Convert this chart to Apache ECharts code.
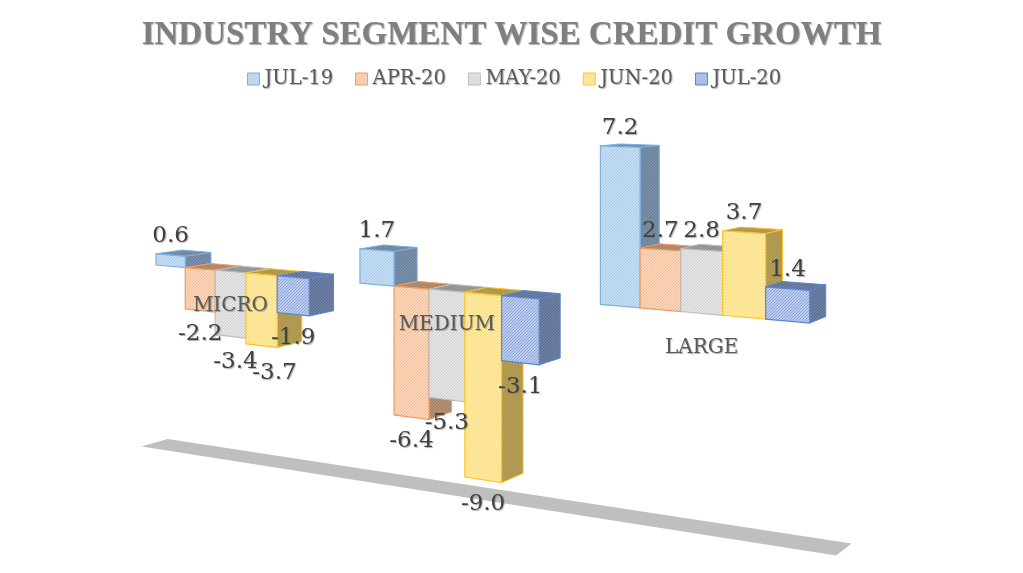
<!DOCTYPE html>
<html>
<head>
<meta charset="utf-8">
<style>html,body{margin:0;padding:0;background:#fff}#c{width:1023px;height:573px}</style>
<script src="https://cdn.jsdelivr.net/npm/echarts@6/dist/echarts.min.js"></script>
</head>
<body>
<div id="c"></div>
<script>
var titleText = 'INDUSTRY SEGMENT WISE CREDIT GROWTH';
var categories = ['MICRO', 'MEDIUM', 'LARGE'];
var months = ['JUL-19', 'APR-20', 'MAY-20', 'JUN-20', 'JUL-20'];
var jul19 = [0.6, 1.7, 7.2];
var apr20 = [-2.2, -6.4, 2.7];
var may20 = [-3.4, -5.3, 2.8];
var jun20 = [-3.7, -9.0, 3.7];
var jul20 = [-1.9, -3.1, 1.4];
var seriesValues = [jul19, apr20, may20, jun20, jul20];

// styling tables
var frontBg = ['#d6e7f7', '#fde4d2', '#f0f0f0', '#fff0c0', '#d3def3'];
var frontFg = ['#a3c8ea', '#f6b88e', '#cdcdcd', '#ffdb6e', '#86a1da'];
var sideBg = ['#8497ae', '#bb9a80', '#a2a2a2', '#bba55e', '#7a8aa8'];
var sideFg = ['#647d98', '#a27b5c', '#8b8b8b', '#a68f45', '#566a96'];
var edge = ['#7fb0e0', '#f09a5f', '#bdbdbd', '#ffc62a', '#5a84cf'];

function hatch(bg, fg) {
  var n = 3, cv = document.createElement('canvas');
  cv.width = n; cv.height = n;
  var g = cv.getContext('2d');
  g.fillStyle = bg; g.fillRect(0, 0, n, n);
  g.strokeStyle = fg; g.lineWidth = 1.1;
  [[-n, n, n, -n], [0, n, n, 0], [0, 2 * n, 2 * n, 0]].forEach(function (l) {
    g.beginPath(); g.moveTo(l[0], l[1]); g.lineTo(l[2], l[3]); g.stroke();
  });
  return { image: cv, repeat: 'repeat' };
}
var frontFill = frontBg.map(function (b, i) { return hatch(b, frontFg[i]); });
var sideFill = sideBg.map(function (b, i) { return hatch(b, sideFg[i]); });

// 3-D view: the flat cartesian grid is warped by one projective map
var groupStart = [0, 6.53, 13.1];
var barStep = [1, 1, 0.985];
var K = { c: -0.0112, g: 0.0205, p: 29.7, q: -0.4, s: 1.4, f: -0.0014 };
function project(api, u, v, w) {
  var flat = api.coord([u, v]);
  var D = 1 + K.c * u + K.g * w;
  return [(flat[0] + K.p * w) / D, (flat[1] + K.q * u + K.s * w) / (D + K.f * v)];
}
var AXIS_MIN = -10, AXIS_MAX = 8;

function renderBar(params, api) {
  var si = params.seriesIndex - 1, cat = api.value(0);
  var step = barStep[cat];
  var u = groupStart[cat] + si * step, v = api.value(1);
  function P(du, val, w) { return project(api, u + du * step, val, w); }
  var hi = Math.max(v, 0), lo = Math.min(v, 0);
  var sideStyle = { fill: sideFill[si], stroke: edge[si], lineWidth: 1 };
  var frontStyle = { fill: frontFill[si], stroke: edge[si], lineWidth: 1.2 };
  return {
    type: 'group',
    children: [
      { type: 'polygon', shape: { points: [P(0, hi, 0), P(1, hi, 0), P(1, hi, 1), P(0, hi, 1)] }, style: sideStyle },
      { type: 'polygon', shape: { points: [P(1, hi, 0), P(1, hi, 1), P(1, lo, 1), P(1, lo, 0)] }, style: sideStyle },
      { type: 'polygon', shape: { points: [P(0, hi, 0), P(1, hi, 0), P(1, lo, 0), P(0, lo, 0)] }, style: frontStyle }
    ]
  };
}
function renderFloor(params, api) {
  var a = -0.5, b = 18.6;
  return {
    type: 'polygon',
    shape: { points: [project(api, a, AXIS_MIN, 0), project(api, a, AXIS_MIN, 1), project(api, b, AXIS_MIN, 1), project(api, b, AXIS_MIN, 0)] },
    style: { fill: '#bfbfbf' }
  };
}
var shadow = { textShadowColor: 'rgba(120,120,120,0.6)', textShadowBlur: 1, textShadowOffsetX: 1, textShadowOffsetY: 1 };
function labelNudge(cat, si) {
  if (cat === 0 && si === 3) return [13, 3];
  if (cat === 0 && si === 2) return [5, 2];
  return [0, 0];
}
function renderValueLabel(params, api) {
  var cat = api.value(0), si = api.value(1), v = api.value(2);
  var u = groupStart[cat] + si * barStep[cat];
  var pos = project(api, u + 0.5 * barStep[cat], v, 0);
  var n = labelNudge(cat, si);
  return {
    type: 'text', z2: 100,
    style: Object.assign({
      x: pos[0] + n[0], y: pos[1] + (v >= 0 ? -19 : 24) + n[1], text: v.toFixed(1),
      fill: '#404040', font: '23px "DejaVu Serif"', align: 'center', verticalAlign: 'middle'
    }, shadow)
  };
}
function renderCategoryLabel(params, api) {
  var cat = api.value(0);
  var pos = project(api, groupStart[cat] + 2.5 * barStep[cat], 0, 0);
  return {
    type: 'text', z2: 99,
    style: Object.assign({
      x: pos[0], y: pos[1] + 34, text: categories[cat],
      fill: '#595959', font: '20px "DejaVu Serif"', align: 'center', verticalAlign: 'middle'
    }, shadow)
  };
}

var labelData = [];
seriesValues.forEach(function (vals, si) {
  vals.forEach(function (v, cat) { labelData.push([cat, si, v]); });
});

var series = [{
  type: 'custom', name: 'floor', coordinateSystem: 'cartesian2d', silent: true, clip: false, z: 1,
  renderItem: renderFloor, data: [[0, AXIS_MIN]], encode: { x: 0, y: 1 }
}];
months.forEach(function (m, si) {
  series.push({
    type: 'custom', name: m, coordinateSystem: 'cartesian2d', clip: false, z: 2 + si,
    renderItem: renderBar, encode: { x: 0, y: 1 },
    itemStyle: { color: frontFg[si] },
    data: seriesValues[si].map(function (v, cat) { return [cat, v]; })
  });
});
series.push({
  type: 'custom', name: 'values', coordinateSystem: 'cartesian2d', clip: false, z: 20,
  renderItem: renderValueLabel, data: labelData, encode: { x: 0, y: 2 }, silent: true
});
series.push({
  type: 'custom', name: 'categories', coordinateSystem: 'cartesian2d', clip: false, z: 21,
  renderItem: renderCategoryLabel, data: categories.map(function (c, i) { return [i, 0]; }), encode: { x: 0, y: 1 }, silent: true
});

var chart = echarts.init(document.getElementById('c'), null, { renderer: 'canvas' });
chart.setOption({
  animation: false,
  backgroundColor: '#ffffff',
  title: {
    text: titleText, left: 'center', top: 14,
    textStyle: { color: '#7f7f7f', fontFamily: 'Liberation Serif', fontWeight: 'bold', fontSize: 33, textShadowColor: 'rgba(90,90,90,0.5)', textShadowBlur: 1, textShadowOffsetX: 1, textShadowOffsetY: 1 }
  },
  legend: {
    left: 247, top: 69, padding: 0, icon: 'rect', itemWidth: 12, itemHeight: 12, itemGap: 22,
    data: months.map(function (m, i) {
      return { name: m, itemStyle: { color: frontFill[i], borderColor: edge[i], borderWidth: 1 } };
    }),
    textStyle: Object.assign({ color: '#595959', fontFamily: 'DejaVu Serif', fontSize: 19.5, padding: [0, 0, 0, 0] }, shadow)
  },
  grid: { left: 156, top: 113, width: 544, height: 342 },
  xAxis: { type: 'value', min: 0, max: 20, show: false },
  yAxis: { type: 'value', min: AXIS_MIN, max: AXIS_MAX, show: false },
  series: series
});
</script>
</body>
</html>
